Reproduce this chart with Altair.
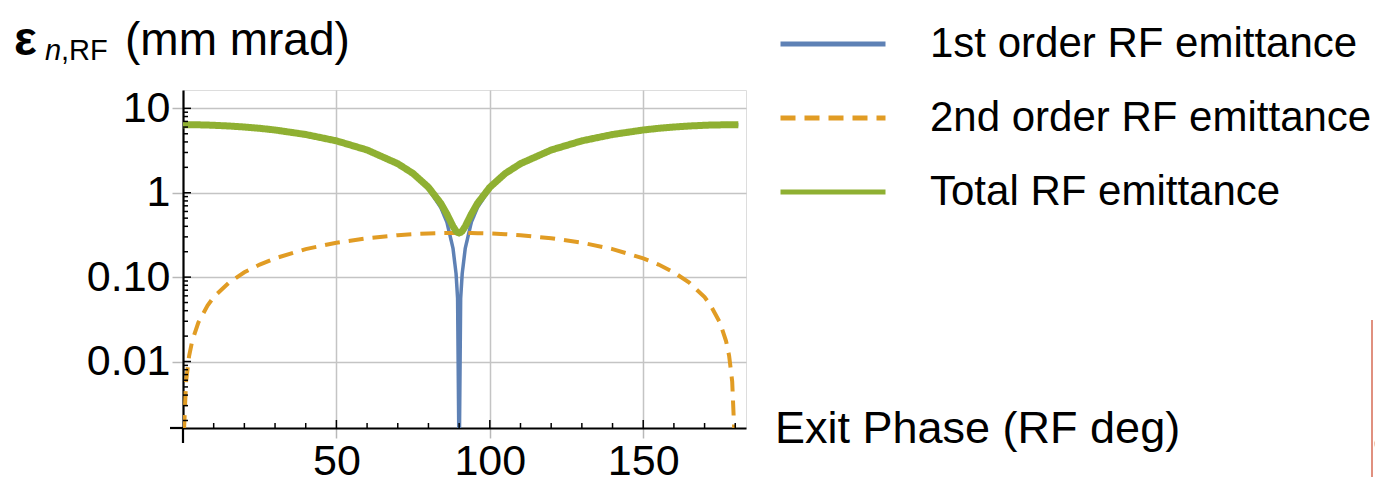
import altair as alt
import pandas as pd

# ---- data (exit phase in RF deg, emittance in mm mrad) ----
PHASE = [0, 1, 2, 3, 5, 8, 10, 15, 20, 25, 30, 40, 50, 60, 70, 75, 80, 84, 86, 88, 89, 89.5,
         90, 90.5, 91, 92, 94, 96, 100, 105, 110, 120, 130, 140, 150, 155, 160, 165, 170,
         172, 175, 177, 178, 179, 180, 181]
FIRST = [6.40, 6.40, 6.40, 6.39, 6.38, 6.34, 6.30, 6.18, 6.01, 5.80, 5.54, 4.90, 4.11, 3.20,
         2.19, 1.66, 1.11, 0.67, 0.45, 0.22, 0.11, 0.056,
         0.0005, 0.056, 0.11, 0.22, 0.45, 0.67, 1.11, 1.66, 2.19, 3.20, 4.11, 4.90, 5.54,
         5.80, 6.01, 6.18, 6.30, 6.34, 6.37, 6.39, 6.39, 6.40, 6.40, 6.40]
SECOND = [0.0008, 0.0058, 0.0117, 0.0175, 0.029, 0.046, 0.058, 0.086, 0.114, 0.141, 0.167,
          0.215, 0.256, 0.289, 0.314, 0.323, 0.329, 0.332, 0.333, 0.334, 0.334, 0.334,
          0.334, 0.334, 0.334, 0.334, 0.333, 0.332, 0.329, 0.323, 0.314, 0.289, 0.256,
          0.215, 0.167, 0.141, 0.114, 0.086, 0.058, 0.046, 0.029, 0.0175, 0.0117, 0.0058,
          0.0008, 0.0008]
TOTAL = [6.40, 6.40, 6.40, 6.39, 6.38, 6.34, 6.30, 6.18, 6.01, 5.80, 5.54, 4.90, 4.12, 3.21,
         2.21, 1.69, 1.16, 0.75, 0.56, 0.40, 0.351, 0.339,
         0.334, 0.339, 0.351, 0.40, 0.56, 0.75, 1.16, 1.69, 2.21, 3.21, 4.12, 4.90, 5.54,
         5.80, 6.01, 6.18, 6.30, 6.34, 6.37, 6.39, 6.39, 6.40, 6.40, 6.40]

SERIES = ["1st order RF emittance", "2nd order RF emittance", "Total RF emittance"]
COLORS = ["#5E81B5", "#E19C24", "#8FB032"]
DASHES = [[1, 0], [15, 9], [1, 0]]
WIDTHS = [3.5, 4, 7]

X_TICKS = [50, 100, 150]
Y_TICKS = [0.01, 0.1, 1, 10]
X_MINOR = [10, 20, 30, 40, 60, 70, 80, 90, 110, 120, 130, 140, 160, 170, 180]
Y_MINOR = [m * d for d in [0.001, 0.01, 0.1, 1] for m in range(2, 10)]

X_TITLE = "Exit Phase (RF deg)"
Y_TITLE_SYMBOL = "ε"
Y_TITLE_SUB_ITALIC = "n"
Y_TITLE_SUB = ",RF"
Y_TITLE_UNIT = "(mm mrad)"

FONT = "Liberation Sans"
W, H = 563, 338

rows = []
for s, vals in zip(SERIES, [FIRST, SECOND, TOTAL]):
    for p, v in zip(PHASE, vals):
        rows.append({"phase": p, "value": v, "series": s})
df = pd.DataFrame(rows)

xscale = alt.Scale(domain=[0, 183.5], nice=False, zero=False)
yscale = alt.Scale(type="log", domain=[0.00163, 16.5], nice=False)

xaxis = alt.Axis(values=X_TICKS, title=None, grid=True, gridColor="#c4c4c4", gridWidth=1.5,
                 domainColor="black", domainWidth=2.2, tickColor="#b8b8b8", tickWidth=1.5,
                 tickSize=10, labelPadding=2, labelFont=FONT, labelFontSize=43,
                 labelColor="black")
yaxis = alt.Axis(values=Y_TICKS, title=None, grid=True, gridColor="#c4c4c4", gridWidth=1.5,
                 domainColor="black", domainWidth=2.2, tickColor="#b8b8b8", tickWidth=1.5,
                 tickSize=11, labelPadding=2, labelFont=FONT, labelFontSize=43,
                 labelColor="black",
                 labelExpr="datum.value >= 10 ? '10' : datum.value >= 1 ? '1' : datum.value >= 0.1 ? '0.10' : '0.01'")

legend = alt.Legend(title=None, orient="none", legendX=629, legendY=-67,
                    symbolType="M-5,0H5", symbolSize=441, symbolStrokeWidth=5,
                    labelFont=FONT, labelFontSize=42, labelColor="black",
                    labelOffset=76, rowPadding=32, padding=0, labelLimit=600)

color = alt.Color("series:N", scale=alt.Scale(domain=SERIES, range=COLORS), legend=legend)
dash = alt.StrokeDash("series:N", scale=alt.Scale(domain=SERIES, range=DASHES), legend=legend)

layers = []
for s, w in zip(SERIES, WIDTHS):
    layers.append(
        alt.Chart(df).transform_filter(alt.datum.series == s)
        .mark_line(strokeWidth=w, clip=True, strokeCap="butt")
        .encode(x=alt.X("phase:Q", scale=xscale, axis=xaxis),
                y=alt.Y("value:Q", scale=yscale, axis=yaxis),
                color=color, strokeDash=dash, order="phase:Q")
    )

xminor = alt.Chart(pd.DataFrame({"v": X_MINOR})).mark_rule(color="black", strokeWidth=1.5).encode(
    x=alt.X("v:Q", scale=xscale, axis=xaxis), y=alt.value(H - 5), y2=alt.value(H))
xmajor = alt.Chart(pd.DataFrame({"v": X_TICKS})).mark_rule(color="black", strokeWidth=1.5).encode(
    x=alt.X("v:Q", scale=xscale, axis=xaxis), y=alt.value(H - 8), y2=alt.value(H))
yminor = alt.Chart(pd.DataFrame({"v": Y_MINOR})).mark_rule(color="black", strokeWidth=1.5).encode(
    y=alt.Y("v:Q", scale=yscale, axis=yaxis), x=alt.value(0), x2=alt.value(5))
ymajor = alt.Chart(pd.DataFrame({"v": Y_TICKS})).mark_rule(color="black", strokeWidth=1.5).encode(
    y=alt.Y("v:Q", scale=yscale, axis=yaxis), x=alt.value(0), x2=alt.value(8))

one = pd.DataFrame({"a": [0]})
cross_h = alt.Chart(one).mark_rule(color="black", strokeWidth=2.2).encode(
    x=alt.value(-13), x2=alt.value(0), y=alt.value(H))
cross_v = alt.Chart(one).mark_rule(color="black", strokeWidth=2.2).encode(
    x=alt.value(0), y=alt.value(H), y2=alt.value(H + 15))

def txt(t, x, y, size, style="normal", weight="normal", color="black", align="left"):
    return alt.Chart(one).mark_text(font=FONT, fontSize=size, fontStyle=style, fontWeight=weight,
                                    align=align, baseline="alphabetic", color=color).encode(
        x=alt.value(x), y=alt.value(y), text=alt.value(t))

t_eps = txt(Y_TITLE_SYMBOL, -169, -35, 48, weight="bold")
t_n = txt(Y_TITLE_SUB_ITALIC, -138, -30, 29, style="italic")
t_rf = txt(Y_TITLE_SUB, -122, -30, 29)
t_unit = txt(Y_TITLE_UNIT, -58, -35, 46)
t_x = txt(X_TITLE, 592, 353, 45)

# cropped slide edge at the far right of the reference
edge = alt.Chart(one).mark_rule(color="#e0907f", strokeWidth=2).encode(
    x=alt.value(1189), y=alt.value(230), y2=alt.value(400))
eight = txt("8", 1190, 362, 40, color="#1a237e")

chart = alt.layer(*layers, xminor, xmajor, yminor, ymajor, cross_h, cross_v,
                  t_eps, t_n, t_rf, t_unit, t_x, edge, eight).properties(
    width=W, height=H,
    autosize=alt.AutoSizeParams(type="none"),
    padding={"left": 175, "top": 82, "right": 629, "bottom": 49},
).configure_view(strokeWidth=0, stroke="transparent").configure(background="white")

chart.save("out.html", embed_options={"renderer": "svg", "actions": False})
